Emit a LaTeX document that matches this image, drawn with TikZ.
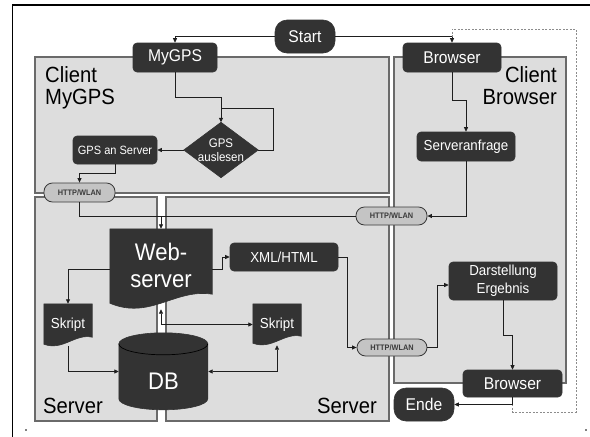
\documentclass[tikz,border=0pt]{standalone}
\usepackage{fontspec}
\setmainfont{Liberation Sans}[FakeStretch=0.92]
\usetikzlibrary{arrows.meta,calc}
\pgfdeclarelayer{bg}
\pgfdeclarelayer{shp}
\pgfsetlayers{bg,shp,main}
\definecolor{nodedark}{HTML}{333333}
\definecolor{panelfill}{HTML}{DDDDDD}
\definecolor{paneledge}{HTML}{6A6A6A}
\definecolor{pillfill}{HTML}{C4C4C4}
\definecolor{pilltext}{HTML}{3A3A3A}
\definecolor{linec}{HTML}{1E1E1E}
\begin{document}
\begin{tikzpicture}[x=1pt,y=-1pt,
  panel/.style={fill=panelfill,draw=paneledge,line width=1.1pt},
  box/.style={fill=nodedark,draw=black!80,line width=0.6pt,rounded corners=4pt,text=white,inner sep=0pt,align=center},
  term/.style={box,rounded corners=12pt},
  pill/.style={fill=pillfill,draw=pilltext,line width=0.8pt,rounded corners=8.5pt,text=pilltext,inner sep=0pt,font=\fontsize{8}{8}\selectfont\bfseries},
  ghost/.style={inner sep=0pt,text=white,align=center},
  shapefill/.style={fill=nodedark,draw=black!80,line width=0.6pt},
  wire/.style={draw=linec,line width=0.8pt},
  conn/.style={wire,-{Triangle[length=4.5pt,width=4pt]}},
  both/.style={wire,{Triangle[length=4.5pt,width=4pt]}-{Triangle[length=4.5pt,width=4pt]}},
  loopback/.style={draw=gray!90,line width=0.7pt,dash pattern=on 2pt off 1.5pt},
  ptitle/.style={inner sep=0pt,text=black,font=\fontsize{22}{22.5}\selectfont},
  bigtxt/.style={font=\fontsize{17}{17}\selectfont},
  midtxt/.style={font=\fontsize{14.5}{18}\selectfont}
]
\useasboundingbox (0,0) rectangle (590,437);
% outer frame
\draw[line width=1.8pt] (12.5,437) -- (12.5,5.2) -- (590,5.2);
\fill (26,430) circle[radius=0.8pt];
\fill (586,430) circle[radius=0.8pt];

% panels
\begin{pgfonlayer}{bg}
\draw[panel] (35,57) rectangle (389,193);
\draw[panel] (394,57) rectangle (566,383);
\draw[panel] (35,197) rectangle (157,421);
\draw[panel] (166,197) rectangle (389,421);
\end{pgfonlayer}

% panel titles
\node[ptitle,anchor=north west,align=left] (tmygps) at (45,66) {Client\\MyGPS};
\node[ptitle,anchor=north east,align=right] (tbrowser) at (557,66) {Client\\Browser};
\node[ptitle,anchor=base west] (tserverL) at (43,413) {Server};
\node[ptitle,anchor=base east] (tserverR) at (377,413) {Server};

% nodes
\node[term,bigtxt,minimum width=60,minimum height=33] (start) at (305,36.5) {Start};
\node[box,bigtxt,minimum width=84,minimum height=29] (mygps) at (175,57.5) {MyGPS};
\node[box,bigtxt,minimum width=98,minimum height=29] (browserA) at (452,57.5) {Browser};
\node[ghost,minimum width=74,minimum height=55,font=\fontsize{12.5}{14}\selectfont] (gps) at (221,150) {GPS\\auslesen};
\node[box,minimum width=84,minimum height=28,font=\fontsize{12}{12}\selectfont] (gpssrv) at (115,150) {GPS an Server};
\node[pill,minimum width=71,minimum height=19] (httpA) at (79.5,192.5) {HTTP/WLAN};
\node[box,midtxt,minimum width=98,minimum height=29] (anfrage) at (466,146.5) {Serveranfrage};
\node[pill,minimum width=71,minimum height=18] (httpB) at (391.5,216) {HTTP/WLAN};
\node[ghost,minimum width=102,minimum height=80,font=\fontsize{24}{27}\selectfont] (web) at (161,269) {\begin{tabular}{@{}c@{}}Web-\\server\end{tabular}};
\node[box,midtxt,minimum width=108,minimum height=28] (xml) at (284,257) {XML/HTML};
\node[ghost,midtxt,minimum width=48,minimum height=42] (skriptL) at (68,325) {Skript};
\node[ghost,midtxt,minimum width=48,minimum height=41] (skriptR) at (277,324.5) {Skript};
\node[ghost,minimum width=89,minimum height=77,font=\fontsize{24}{24}\selectfont] (db) at (163.5,371.5) {\raisebox{-18pt}[0pt][0pt]{DB}};
\node[box,midtxt,minimum width=108,minimum height=38] (darst) at (503,281) {Darstellung\\Ergebnis};
\node[pill,minimum width=70,minimum height=17] (httpC) at (392,347.5) {HTTP/WLAN};
\node[box,bigtxt,minimum width=99,minimum height=27] (browserB) at (512.5,383.5) {Browser};
\node[term,bigtxt,minimum width=60,minimum height=33] (ende) at (424,404.5) {Ende};

% special shapes
\begin{pgfonlayer}{shp}
\draw[shapefill] (gps.north) -- (gps.east) -- (gps.south) -- (gps.west) -- cycle;
\draw[shapefill] (web.north west) -- (web.north east) -- ([yshift=15pt]web.south east)
  .. controls ([xshift=-37pt,yshift=21pt]web.south east) and ([xshift=-11pt,yshift=-11pt]web.south) .. ([yshift=6pt]web.south west) -- cycle;
\draw[shapefill] (skriptL.north west) -- (skriptL.north east) -- ([yshift=9pt]skriptL.south east)
  .. controls ([xshift=-17pt,yshift=13pt]skriptL.south east) and ([xshift=-5pt,yshift=-5pt]skriptL.south) .. ([yshift=2pt]skriptL.south west) -- cycle;
\draw[shapefill] (skriptR.north west) -- (skriptR.north east) -- ([yshift=9pt]skriptR.south east)
  .. controls ([xshift=-17pt,yshift=13pt]skriptR.south east) and ([xshift=-5pt,yshift=-5pt]skriptR.south) .. ([yshift=2pt]skriptR.south west) -- cycle;
\draw[shapefill] (db.north west) ++(0,11) -- ++(0,55)
  arc[start angle=180,end angle=360,x radius=44.5pt,y radius=11pt] -- ++(0,-55)
  arc[start angle=0,end angle=180,x radius=44.5pt,y radius=11pt] -- cycle;
\draw[draw=black,line width=0.7pt] (db.north west) ++(0,11)
  arc[start angle=180,end angle=360,x radius=44.5pt,y radius=11pt];
\end{pgfonlayer}

% connectors
\draw[conn] (start.west) -| (mygps.north);
\draw[conn] (start.east) -| (browserA.north);
\coordinate (dl1) at (576,412);
\coordinate (dl2) at (452,29);
\draw[loopback] (browserB.south) |- (dl1) |- (dl2) -- (browserA.north |- start.east);
\coordinate (m1) at (175,97);
\draw[conn] (mygps.south) -- (m1) -| (gps.north);
\coordinate (lp) at (273,108);
\draw[wire] (gps.east) -| (lp) -- (gps.north |- lp);
\draw[conn] (gps.west) -- (gpssrv.east);
\draw[conn] (gpssrv.south) -- ++(0,9) -| (httpA.north);
\draw[wire] (httpA.south) |- (httpB.west -| web.north);
\draw[conn] (httpB.west) -| (web.north);
\draw[conn] (browserA.south) -- ++(0,28) -| (anfrage.north);
\draw[conn] (anfrage.south) |- (httpB.east);
\draw[conn] (web.east) -- ++(10,0) |- (xml.west);
\draw[conn] (xml.east) -- ++(9,0) |- (httpC.west);
\draw[conn] (httpC.east) -- ++(10,0) |- ([yshift=-4pt]darst.west);
\draw[conn] (darst.south) -- ++(0,35) -| (browserB.north);
\draw[conn] (browserB.south) |- (ende.east);
\draw[conn] (web.west) -| (skriptL.north);
\draw[conn] (skriptL.south) |- (db.west);
\draw[both] (web.south) |- (skriptR.west);
\draw[both] (db.east) -| (skriptR.south);
\end{tikzpicture}
\end{document}
